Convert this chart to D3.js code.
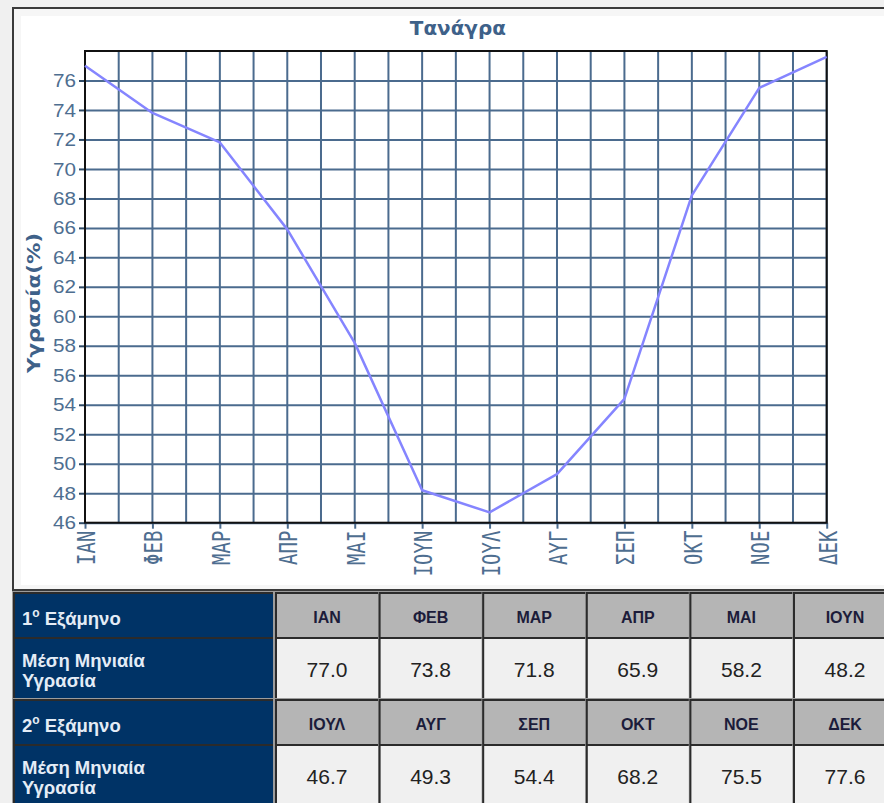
<!DOCTYPE html>
<html>
<head>
<meta charset="utf-8">
<script src="https://cdn.jsdelivr.net/npm/d3@7"></script>
<style>
  html, body { margin: 0; padding: 0; background: #f0f0f0; }
  svg { display: block; }
</style>
</head>
<body>
<div id="vis"></div>
<script>
// Τανάγρα — mean monthly humidity, line chart + table underneath

const MONTHS   = ["ΙΑΝ", "ΦΕΒ", "ΜΑΡ", "ΑΠΡ", "ΜΑΙ", "ΙΟΥΝ", "ΙΟΥΛ", "ΑΥΓ", "ΣΕΠ", "ΟΚΤ", "ΝΟΕ", "ΔΕΚ"];
const HUMIDITY = [77.0, 73.8, 71.8, 65.9, 58.2, 48.2, 46.7, 49.3, 54.4, 68.2, 75.5, 77.6];
const Y_TICKS  = [46, 48, 50, 52, 54, 56, 58, 60, 62, 64, 66, 68, 70, 72, 74, 76];
const Y_DOMAIN = [46, 78];

const TITLE   = "Τανάγρα";
const Y_LABEL = "Υγρασία(%)";
const ROW_LABEL = ["Μέση Μηνιαία", "Υγρασία"];
const SEMESTERS = ["1", "2"];

const W = 884, H = 803;
const GRID = "#4b6b8e";
const TXT  = "#4e6e90";

const svg = d3.select("#vis").append("svg")
  .attr("width", W).attr("height", H);

// ── Panel frame ─────────────────────────────────────────────────────────────
svg.append("rect").attr("x", 0).attr("y", 0).attr("width", W).attr("height", H).attr("fill", "#f0f0f0");
svg.append("rect").attr("x", 13).attr("y", 8).attr("width", W).attr("height", 582)
  .attr("fill", "#f6f6f6").attr("stroke", "#3a3a3a").attr("stroke-width", 2);
svg.append("rect").attr("x", 21).attr("y", 16).attr("width", W).attr("height", 569).attr("fill", "#fff");

// ── Chart ───────────────────────────────────────────────────────────────────
const plot = { left: 85, right: 826.7, top: 51, bottom: 522.7 };

const x = d3.scalePoint().domain(MONTHS).range([plot.left, plot.right]);
const xi = d3.scaleLinear().domain([0, MONTHS.length - 1]).range([plot.left, plot.right]);
const y = d3.scaleLinear().domain(Y_DOMAIN).range([plot.bottom, plot.top]);

const g = svg.append("g");

// vertical grid every half month
const halfSteps = d3.range(0, MONTHS.length - 0.5, 0.5);
g.append("g").selectAll("line").data(halfSteps).join("line")
  .attr("x1", d => xi(d)).attr("x2", d => xi(d))
  .attr("y1", plot.top).attr("y2", plot.bottom)
  .attr("stroke", GRID).attr("stroke-width", 2);

// horizontal grid + y axis
g.append("g")
  .attr("transform", `translate(${plot.left},0)`)
  .call(d3.axisLeft(y).tickValues(Y_TICKS).tickSize(6).tickPadding(3).tickFormat(d3.format("d")))
  .call(ax => ax.select(".domain").remove())
  .call(ax => ax.selectAll(".tick line").attr("stroke", "#2e4a66").attr("stroke-width", 2))
  .call(ax => ax.selectAll(".tick line").clone()
    .attr("x1", 0).attr("x2", plot.right - plot.left).attr("stroke", GRID).attr("stroke-width", 2))
  .call(ax => ax.selectAll(".tick text")
    .attr("fill", TXT)
    .style("font-family", "'Liberation Sans', Arial, sans-serif")
    .style("font-size", "19px")
    .attr("textLength", 23).attr("lengthAdjust", "spacingAndGlyphs"));

// x axis ticks + rotated labels
g.append("g")
  .attr("transform", `translate(0,${plot.bottom})`)
  .call(d3.axisBottom(x).tickSize(6).tickFormat(""))
  .call(ax => ax.select(".domain").remove())
  .call(ax => ax.selectAll(".tick line").attr("stroke", GRID).attr("stroke-width", 2));

g.append("g").selectAll("text").data(MONTHS).join("text")
  .attr("transform", d => `translate(${x(d) + 1},${plot.bottom + 8}) rotate(-90)`)
  .attr("text-anchor", "end")
  .attr("dy", "0.36em")
  .attr("fill", TXT)
  .style("font-family", "'DejaVu Sans Mono', monospace")
  .style("font-size", "25px")
  .attr("textLength", d => d.length * 11.4)
  .attr("lengthAdjust", "spacingAndGlyphs")
  .text(d => d);

// plot frame
g.append("rect")
  .attr("x", plot.left).attr("y", plot.top)
  .attr("width", plot.right - plot.left).attr("height", plot.bottom - plot.top)
  .attr("fill", "none").attr("stroke", "#111").attr("stroke-width", 2);

// humidity line
g.append("path")
  .datum(HUMIDITY)
  .attr("fill", "none")
  .attr("stroke", "#8585ff")
  .attr("stroke-width", 2.5)
  .attr("stroke-linejoin", "round")
  .attr("d", d3.line().x((d, i) => x(MONTHS[i])).y(d => y(d)));

// title + y label
svg.append("text")
  .attr("x", (plot.left + plot.right) / 2 + 2).attr("y", 35)
  .attr("text-anchor", "middle")
  .attr("fill", "#3e6189")
  .style("font-family", "'DejaVu Sans', Verdana, sans-serif")
  .style("font-weight", "bold").style("font-size", "19px")
  .attr("textLength", 96).attr("lengthAdjust", "spacingAndGlyphs")
  .text(TITLE);

svg.append("text")
  .attr("transform", `translate(40,303) rotate(-90)`)
  .attr("text-anchor", "middle")
  .attr("fill", "#3e6189")
  .style("font-family", "'DejaVu Sans', Verdana, sans-serif")
  .style("font-weight", "bold").style("font-size", "17px")
  .attr("textLength", 140).attr("lengthAdjust", "spacingAndGlyphs")
  .text(Y_LABEL);

// ── Table ───────────────────────────────────────────────────────────────────
const ROWS = [
  { top: 593, h: 44, kind: "head", sem: 0 },
  { top: 638, h: 60, kind: "data", sem: 0 },
  { top: 700, h: 44, kind: "head", sem: 1 },
  { top: 745, h: 62, kind: "data", sem: 1 },
];
const COL0 = { x: 14, w: 259 };
const colX = i => 276 + i * 103.6;
const COL_W = 102;
const LBL_FONT = "18.5px";

const tbl = svg.append("g");
tbl.append("rect").attr("x", 12).attr("y", 591).attr("width", W).attr("height", H).attr("fill", "#9c9c9c");

ROWS.forEach(row => {
  // navy label cell
  tbl.append("rect")
    .attr("x", COL0.x).attr("y", row.top).attr("width", COL0.w).attr("height", row.h)
    .attr("fill", "#003366");
  tbl.append("path")
    .attr("d", `M${COL0.x},${row.top + row.h} V${row.top} H${COL0.x + COL0.w}`)
    .attr("fill", "none").attr("stroke", "#2b2b2b").attr("stroke-width", 2);

  const lbl = tbl.append("text")
    .attr("fill", "#e4ecf6")
    .style("font-family", "'Liberation Sans', Arial, sans-serif")
    .style("font-weight", "bold").style("font-size", LBL_FONT);
  if (row.kind === "head") {
    lbl.attr("x", 22).attr("y", row.top + 32);
    lbl.append("tspan").text(SEMESTERS[row.sem]);
    lbl.append("tspan").attr("dy", -8).style("font-size", "12px").text("ο");
    lbl.append("tspan").attr("dy", 8).text(" Εξάμηνο");
  } else {
    lbl.attr("x", 22).attr("y", row.top + 29).text(ROW_LABEL[0]);
    tbl.append("text")
      .attr("x", 22).attr("y", row.top + 49)
      .attr("fill", "#e4ecf6")
      .style("font-family", "'Liberation Sans', Arial, sans-serif")
      .style("font-weight", "bold").style("font-size", LBL_FONT)
      .text(ROW_LABEL[1]);
  }

  const months = MONTHS.slice(row.sem * 6, row.sem * 6 + 6);
  const vals = HUMIDITY.slice(row.sem * 6, row.sem * 6 + 6);
  const cells = tbl.append("g").selectAll("g")
    .data(row.kind === "head" ? months : vals)
    .join("g")
    .attr("transform", (d, i) => `translate(${colX(i)},${row.top})`);

  cells.append("rect")
    .attr("width", COL_W).attr("height", row.h)
    .attr("fill", row.kind === "head" ? "#b5b5b5" : "#f0f0f0");
  cells.append("path")
    .attr("d", `M0,${row.h} V0 H${COL_W}`)
    .attr("fill", "none").attr("stroke", "#2b2b2b").attr("stroke-width", 2);

  cells.append("text")
    .attr("x", COL_W / 2)
    .attr("y", row.kind === "head" ? 30 : 39)
    .attr("text-anchor", "middle")
    .attr("fill", row.kind === "head" ? "#1c1c3a" : "#222")
    .style("font-family", "'Liberation Sans', Arial, sans-serif")
    .style("font-weight", row.kind === "head" ? "bold" : "normal")
    .style("font-size", row.kind === "head" ? "16px" : "21px")
    .text(d => row.kind === "head" ? d : d3.format(".1f")(d));
});
</script>
</body>
</html>
